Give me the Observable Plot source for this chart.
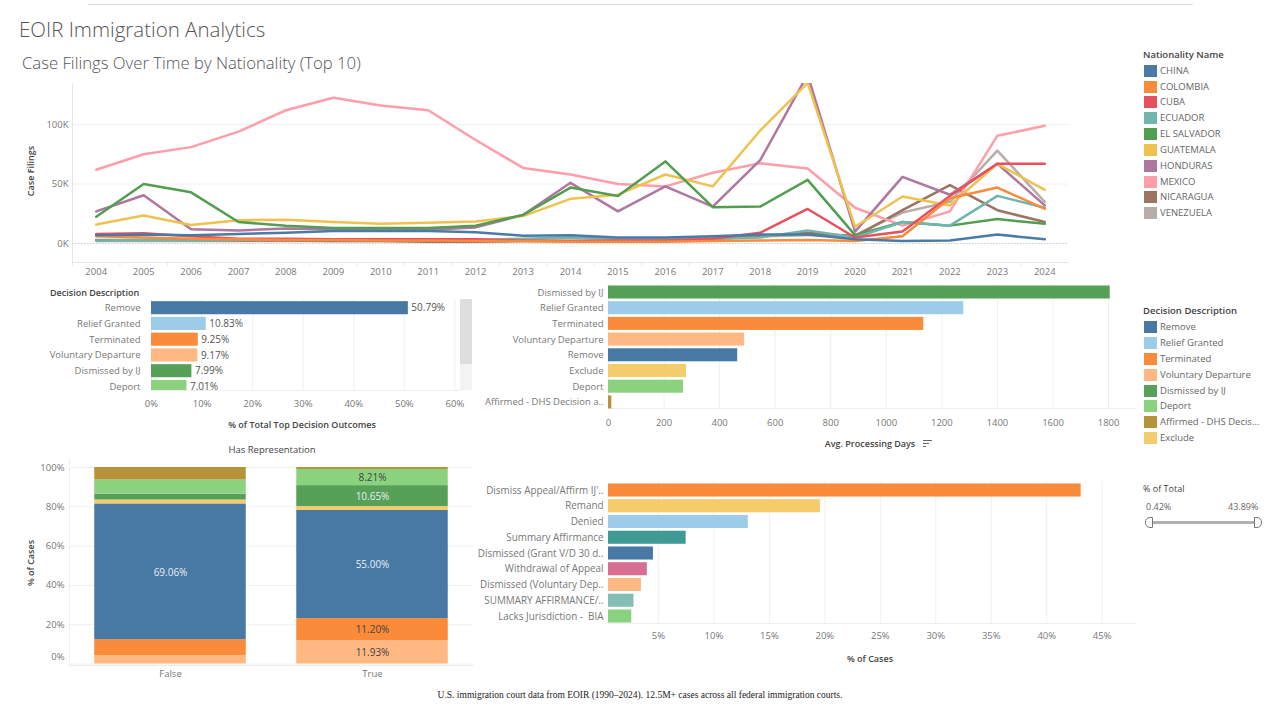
<!DOCTYPE html>
<html>
<head>
<meta charset="utf-8">
<script src="https://cdn.jsdelivr.net/npm/d3@7"></script>
<script src="https://cdn.jsdelivr.net/npm/@observablehq/plot@0.6"></script>
<style>
html,body{margin:0;padding:0;background:#fff;}
#page{position:relative;width:1280px;height:715px;overflow:hidden;font-family:"Open Sans",sans-serif;}
#page svg{position:absolute;background:transparent;overflow:visible;}
.t{position:absolute;white-space:nowrap;line-height:1;}
</style>
</head>
<body>
<div id="page"></div>
<script>
// ---------- data ----------
const years = [2004,2005,2006,2007,2008,2009,2010,2011,2012,2013,2014,2015,2016,2017,2018,2019,2020,2021,2022,2023,2024];
const nationalities = ["CHINA","COLOMBIA","CUBA","ECUADOR","EL SALVADOR","GUATEMALA","HONDURAS","MEXICO","NICARAGUA","VENEZUELA"];
const nationalityColors = ["#4a7ba6","#f98b3a","#e7515f","#70b5ae","#529e51","#efc24f","#af76a0","#ff9da8","#9c7461","#b8aea9"];
const china     = [7,7.5,7,8,9,10.5,10.5,10.5,9.5,6.5,7,5,5,6,7.5,7.5,3.5,2,2.5,7.5,3.5];
const colombia  = [6,5,4,3.5,3,3,2.5,2.5,2,2,1.5,1.5,1.5,2,2.5,3,2,6,38,47,29];
const cuba      = [8,8.5,6,4,4,3.5,3.5,3.5,3.5,2.5,2,2.5,2.5,4,9,29,5,10,40,67,67];
const ecuador   = [2.5,3,2.5,3,3,3,3,3,3,4,5,4,3.5,4,5,11,5,18,15,40,30];
const elSalvador= [22.5,50,43,18,15,13,13,13,15,24,47,40,69,30.5,31,53.5,7,18,15,20.5,16.5];
const guatemala = [16,23.5,15.5,19.5,20,18,16.5,17.5,18.5,23,37.5,41,58,48,95,135,14,39.5,32,67,45];
const honduras  = [27,40.5,12,11,12.5,12,11.5,11.5,13.5,24,51,27,48,31,70,142,10,56,41,67,32];
const mexico    = [62,75,81,94,112,122.5,116,112,87,63.5,58,50,48,59.5,67.5,63,30,15,27,90.5,99];
const nicaragua = [3,3,3,2.5,2.5,2,2,1.5,1.5,2,2,2,2.5,3.5,6,9,6,28,49,28,18];
const venezuela = [2,2,2,2,2,2,2,2,2,2,2,2.5,3,5,6,7,7,26,35,78,35];
const filingSeries = [china,colombia,cuba,ecuador,elSalvador,guatemala,honduras,mexico,nicaragua,venezuela];

const decisionLegend = ["Remove","Relief Granted","Terminated","Voluntary Departure","Dismissed by IJ","Deport","Affirmed - DHS Decis...","Exclude"];
const decisionColors = ["#4878a4","#9dcce8","#fa8b3a","#ffb881","#57a057","#8bd27f","#b69338","#f5cc6c"];

const outcomeNames = ["Remove","Relief Granted","Terminated","Voluntary Departure","Dismissed by IJ","Deport"];
const outcomeShares = [50.79,10.83,9.25,9.17,7.99,7.01];

const daysNames = ["Dismissed by IJ","Relief Granted","Terminated","Voluntary Departure","Remove","Exclude","Deport","Affirmed - DHS Decision a.."];
const daysValues = [1806,1279,1135,490,465,281,270,12];
const daysKeys = ["Dismissed by IJ","Relief Granted","Terminated","Voluntary Departure","Remove","Exclude","Deport","Affirmed - DHS Decis..."];

const repGroups = ["False","True"];
const repDecisions = ["Voluntary Departure","Terminated","Remove","Exclude","Dismissed by IJ","Deport","Affirmed - DHS Decis..."];
const repFalse = [4.3,8.1,69.06,2,3,7.2,6.34];
const repTrue = [11.93,11.2,55,2,10.65,8.21,1.01];

const appealNames = ["Dismiss Appeal/Affirm IJ'..","Remand","Denied","Summary Affirmance","Dismissed (Grant V/D 30 d..","Withdrawal of Appeal","Dismissed (Voluntary Dep..","SUMMARY AFFIRMANCE/..","Lacks Jurisdiction -  BIA"];
const appealValues = [43.1,19.6,13.1,7.5,4.55,4,3.47,2.8,2.6];
const appealColors = ["#fa8b3a","#f5cc6c","#9dcce8","#3f9a94","#4878a4","#d66f92","#ffb881","#84bdb4","#8bd27f"];

// ---------- helpers ----------
const page = document.getElementById("page");
const FONT = '"Open Sans",sans-serif';
const TICK = "#777";
const GRID = "#f0f0f0";
const baseStyle = {fontFamily: FONT, fontSize: "9.5px", background: "transparent", overflow: "visible"};

function txt(x, y, s, o = {}) {
  const d = document.createElement("div");
  d.className = "t";
  d.textContent = s;
  Object.assign(d.style, {left: x + "px", top: y + "px", fontSize: "9.5px", color: "#666"}, o);
  page.appendChild(d);
  return d;
}
function box(x, y, w, h, c, o = {}) {
  const d = document.createElement("div");
  Object.assign(d.style, {position: "absolute", boxSizing: "border-box", left: x + "px", top: y + "px", width: w + "px", height: h + "px", background: c}, o);
  page.appendChild(d);
  return d;
}
function place(svg, left, top) {
  svg.style.left = left + "px";
  svg.style.top = top + "px";
  page.appendChild(svg);
}
function rowBand(domain, firstCenter, step) {
  return {type: "band", domain, range: [firstCenter - step / 2, firstCenter - step / 2 + step * domain.length],
          paddingInner: 0.17, paddingOuter: 0.085, round: false, align: 0.5};
}
function legend(x, y0, title, names, colors, ys) {
  txt(x, y0, title, {color: "#444", fontSize: "9.5px", fontWeight: "600"});
  names.forEach((n, i) => {
    box(x + 1, ys[i] - 6, 13, 12, colors[i]);
    txt(x + 17, ys[i] - 5, n, {color: "#666"});
  });
}

// ---------- header ----------
box(88, 4, 1105, 1, "#dcdcdc");
txt(19, 19, "EOIR Immigration Analytics", {fontSize: "20.5px", color: "#555", fontWeight: "300"});
txt(22, 55, "Case Filings Over Time by Nationality (Top 10)", {fontSize: "16.7px", color: "#555", fontWeight: "300"});

// ---------- line chart ----------
const filings = filingSeries.flatMap((vals, i) => vals.map((v, j) => ({year: years[j], value: v, nation: nationalities[i]})));
const drawOrder = [...nationalities].reverse();
const lineTop = 75;
place(Plot.plot({
  width: 1100, height: 210, marginTop: 8, marginBottom: 23, marginLeft: 72, marginRight: 32,
  style: baseStyle,
  x: {type: "linear", domain: [2003.5, 2024.5]},
  y: {domain: [-16, 134.5]},
  color: {type: "ordinal", domain: nationalities, range: nationalityColors},
  marks: [
    Plot.gridY([50, 100], {stroke: GRID, strokeOpacity: 1}),
    Plot.ruleY([0], {stroke: "#bbb", strokeDasharray: "1.5 1.5", strokeWidth: 0.8}),
    Plot.frame({anchor: "left", stroke: "#e6e6e6"}),
    Plot.frame({anchor: "bottom", stroke: "#e6e6e6"}),
    Plot.axisX({ticks: years.map(y => y - 0.5), text: null, tickSize: 4, stroke: "#e6e6e6", label: null}),
    Plot.axisX({ticks: years, tickFormat: "d", tickSize: 0, tickPadding: 6, label: null, fill: TICK}),
    Plot.axisY([0, 50, 100], {tickFormat: d => d + "K", tickSize: 0, tickPadding: 4, label: null, fill: TICK}),
    ...drawOrder.map(n => Plot.line(filings.filter(d => d.nation === n), {
      x: "year", y: "value", stroke: "nation", strokeWidth: 2.5, clip: true
    }))
  ]
}), 0, lineTop);
txt(30, 171, "Case Filings", {fontSize: "9px", fontWeight: "600", color: "#444", transform: "translate(-50%,-50%) rotate(-90deg)"});
legend(1143, 50, "Nationality Name", nationalities, nationalityColors, [71,86.5,102,118,134,149.5,165.5,181.5,197,213]);

// ---------- outcome share bars ----------
const outcomes = outcomeNames.map((n, i) => ({name: n, share: outcomeShares[i]}));
place(Plot.plot({
  width: 480, height: 140, marginTop: 9, marginBottom: 40, marginLeft: 151, marginRight: 20,
  style: baseStyle,
  x: {domain: [0, 61.1]},
  y: rowBand(outcomeNames, 17.7, 15.75),
  color: {type: "ordinal", domain: decisionLegend, range: decisionColors},
  marks: [
    Plot.gridX([0,10,20,30,40,50,60], {stroke: GRID, strokeOpacity: 1}),
    Plot.frame({anchor: "bottom", stroke: "#eee"}),
    Plot.barX(outcomes, {x: "share", y: "name", fill: "name", clip: true}),
    Plot.text(outcomes, {x: "share", y: "name", text: d => d.share.toFixed(2) + "%", textAnchor: "start", dx: 3, fill: "#555", fontSize: 10}),
    Plot.axisX([0,10,20,30,40,50,60], {tickFormat: d => d + "%", tickSize: 0, tickPadding: 10, label: null, fill: TICK}),
    Plot.axisY({tickSize: 0, tickPadding: 11, label: null, fill: TICK})
  ]
}), 0, 290);
txt(50, 288, "Decision Description", {fontWeight: "600", fontSize: "9px", color: "#444"});
txt(302, 424, "% of Total Top Decision Outcomes", {fontWeight: "600", fontSize: "9px", color: "#444", transform: "translate(-50%,-50%)"});
box(460, 299, 12, 65, "#dedede");
box(460, 364, 12, 26, "#f3f3f3");

// ---------- processing days ----------
const days = daysNames.map((n, i) => ({name: n, days: daysValues[i], key: daysKeys[i]}));
place(Plot.plot({
  width: 670, height: 160, marginTop: 4, marginBottom: 32, marginLeft: 608, marginRight: -465,
  style: baseStyle,
  x: {domain: [0, 1897]},
  y: rowBand(daysNames, 12, 15.7),
  color: {type: "ordinal", domain: decisionLegend, range: decisionColors},
  marks: [
    Plot.gridX(d3.range(0, 1801, 200), {stroke: GRID, strokeOpacity: 1}),
    Plot.frame({anchor: "bottom", stroke: "#eee"}),
    Plot.barX(days, {x: "days", y: "name", fill: "key"}),
    Plot.axisX(d3.range(0, 1801, 200), {tickFormat: "d", tickSize: 0, tickPadding: 11, label: null, fill: TICK}),
    Plot.axisY({tickSize: 0, tickPadding: 5, label: null, fill: TICK})
  ]
}), 0, 280);
txt(870, 443, "Avg. Processing Days", {fontWeight: "600", fontSize: "9px", color: "#444", transform: "translate(-50%,-50%)"});
box(923, 440, 9, 1.2, "#666"); box(923, 443, 6, 1.2, "#666"); box(923, 446, 3, 1.2, "#666");
legend(1143, 306, "Decision Description", decisionLegend, decisionColors, [327,343,359,375,391,406,422,438]);

// ---------- stacked representation ----------
const reps = repDecisions.flatMap((d, i) => [
  {rep: repGroups[0], decision: d, value: repFalse[i]},
  {rep: repGroups[1], decision: d, value: repTrue[i]}
]);
const showLabel = d => d.value > 8.2;
const lightLabel = d => d.decision === "Remove" || d.decision === "Dismissed by IJ";
const stackOpts = {x: "rep", y: "value", order: null};
place(Plot.plot({
  width: 480, height: 225, marginTop: 3, marginBottom: 15, marginLeft: 69, marginRight: 7,
  style: baseStyle,
  x: {type: "band", domain: repGroups, paddingInner: 0.25, paddingOuter: 0.125, round: false},
  y: {domain: [0, 100], range: [208.5, 12]},
  color: {type: "ordinal", domain: decisionLegend, range: decisionColors},
  marks: [
    Plot.gridY([0,20,40,60,80,100], {stroke: GRID, strokeOpacity: 1}),
    Plot.frame({anchor: "left", stroke: "#eee"}),
    Plot.frame({anchor: "bottom", stroke: "#eee"}),
    Plot.barY(reps, Plot.stackY({...stackOpts, fill: "decision"})),
    Plot.text(reps, Plot.stackY({...stackOpts, text: d => showLabel(d) && lightLabel(d) ? d.value.toFixed(2) + "%" : "", fill: "#e8eef4", fontSize: 10, dy: 0.7})),
    Plot.text(reps, Plot.stackY({...stackOpts, text: d => showLabel(d) && !lightLabel(d) ? d.value.toFixed(2) + "%" : "", fill: "#444", fontSize: 10, dy: 0.7})),
    Plot.axisX({tickSize: 0, tickPadding: 5, label: null, fill: TICK}),
    Plot.axisY([20,40,60,80,100], {tickFormat: d => d + "%", tickSize: 0, tickPadding: 5, label: null, fill: TICK}),
    Plot.axisY([0], {tickFormat: d => d + "%", tickSize: 0, tickPadding: 5, label: null, fill: TICK, dy: -7})
  ]
}), 0, 455);
txt(272, 450, "Has Representation", {fontSize: "9.5px", fontWeight: "500", color: "#444", transform: "translate(-50%,-50%)"});
txt(30, 563, "% of Cases", {fontSize: "9px", fontWeight: "600", color: "#444", transform: "translate(-50%,-50%) rotate(-90deg)"});

// ---------- appeals ----------
const appeals = appealNames.map((n, i) => ({name: n, value: appealValues[i], c: appealColors[i]}));
place(Plot.plot({
  width: 1140, height: 170, marginTop: 4, marginBottom: 24, marginLeft: 608, marginRight: 5,
  style: baseStyle,
  x: {domain: [0.5, 48]},
  y: rowBand(appealNames, 13, 15.75),
  color: {type: "ordinal", domain: appealNames, range: appealColors},
  marks: [
    Plot.gridX(d3.range(5, 46, 5), {stroke: GRID, strokeOpacity: 1}),
    Plot.frame({anchor: "bottom", stroke: "#eee"}),
    Plot.barX(appeals, {x: "value", y: "name", fill: "name", clip: true}),
    Plot.axisX(d3.range(5, 46, 5), {tickFormat: d => d + "%", tickSize: 0, tickPadding: 9, label: null, fill: TICK}),
    Plot.axisY({tickSize: 0, tickPadding: 5, label: null, fill: TICK, fontSize: 9.9})
  ]
}), 0, 477);
txt(870, 658, "% of Cases", {fontWeight: "600", fontSize: "9px", color: "#444", transform: "translate(-50%,-50%)"});

// ---------- slider ----------
txt(1143, 484, "% of Total", {fontWeight: "500", color: "#444", fontSize: "9px"});
txt(1146, 502, "0.42%", {fontSize: "9px", color: "#666"});
txt(1228, 502, "43.89%", {fontSize: "9px", color: "#666"});
box(1150, 520.5, 107, 3, "#b0b0b0");
box(1145, 516.5, 8, 11, "#fff", {border: "1px solid #777", borderRadius: "5px 0 0 5px"});
box(1254, 516.5, 8, 11, "#fff", {border: "1px solid #777", borderRadius: "0 5px 5px 0"});

// ---------- caption ----------
txt(640, 696, "U.S. immigration court data from EOIR (1990–2024). 12.5M+ cases across all federal immigration courts.",
  {fontFamily: '"Liberation Serif",serif', fontSize: "9.5px", color: "#222", transform: "translate(-50%,-50%)"});
</script>
</body>
</html>
